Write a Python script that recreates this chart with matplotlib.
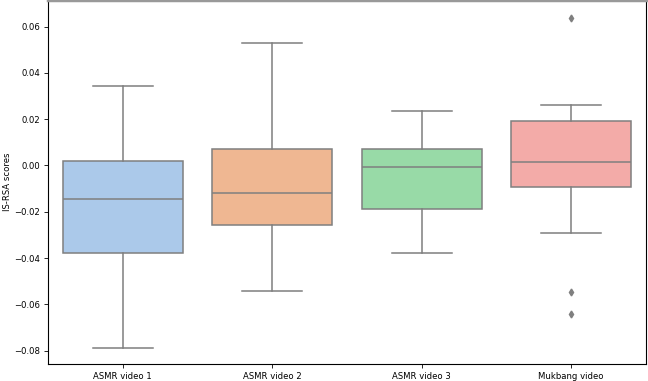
import matplotlib
matplotlib.use("Agg")
import matplotlib.pyplot as plt
import seaborn as sns

# box statistics
categories = ["ASMR video 1", "ASMR video 2", "ASMR video 3", "Mukbang video"]
whisker_low = [-0.0789, -0.0544, -0.0379, -0.0293]
q1 = [-0.0379, -0.0258, -0.0187, -0.0092]
medians = [-0.0143, -0.0120, -0.0008, 0.0014]
q3 = [0.0018, 0.0073, 0.0073, 0.0194]
whisker_high = [0.0344, 0.0529, 0.0237, 0.0260]
outliers = [[], [], [], [0.0639, -0.0545, -0.0640]]

palette = [sns.desaturate(c, 0.75) for c in sns.color_palette("pastel", 4)]
line_color = "#7f7f7f"

stats = []
for i, name in enumerate(categories):
    stats.append({
        "label": name,
        "whislo": whisker_low[i],
        "q1": q1[i],
        "med": medians[i],
        "q3": q3[i],
        "whishi": whisker_high[i],
        "fliers": outliers[i],
    })

fig = plt.figure(figsize=(6.48, 3.81), dpi=100)
ax = fig.add_axes([48 / 648, 16.7 / 381, 598 / 648, 364.3 / 381])

lw = 1.1
bp = ax.bxp(stats, positions=range(len(categories)), widths=0.8,
            patch_artist=True, showfliers=True,
            boxprops=dict(edgecolor=line_color, linewidth=lw),
            medianprops=dict(color=line_color, linewidth=lw),
            whiskerprops=dict(color=line_color, linewidth=lw),
            capprops=dict(color=line_color, linewidth=lw),
            capwidths=0.4,
            flierprops=dict(marker="d", markerfacecolor=line_color,
                            markeredgecolor=line_color, markersize=3.5))
for patch, col in zip(bp["boxes"], palette):
    patch.set_facecolor(col)

ax.set_xlim(-0.5, 3.5)
ax.set_ylim(-0.0859, 0.0715)
ax.set_xticks(range(len(categories)))
ax.set_xticklabels(categories)
ax.set_ylabel("IS-RSA scores", fontsize=6.1, labelpad=2)
ax.tick_params(labelsize=6.1, length=3, width=0.6, pad=2.5)
for sp in ax.spines.values():
    sp.set_linewidth(0.8)
ax.spines["top"].set_color("#999999")
ax.spines["top"].set_linewidth(2.5)

fig.savefig("out.png", dpi=100)
